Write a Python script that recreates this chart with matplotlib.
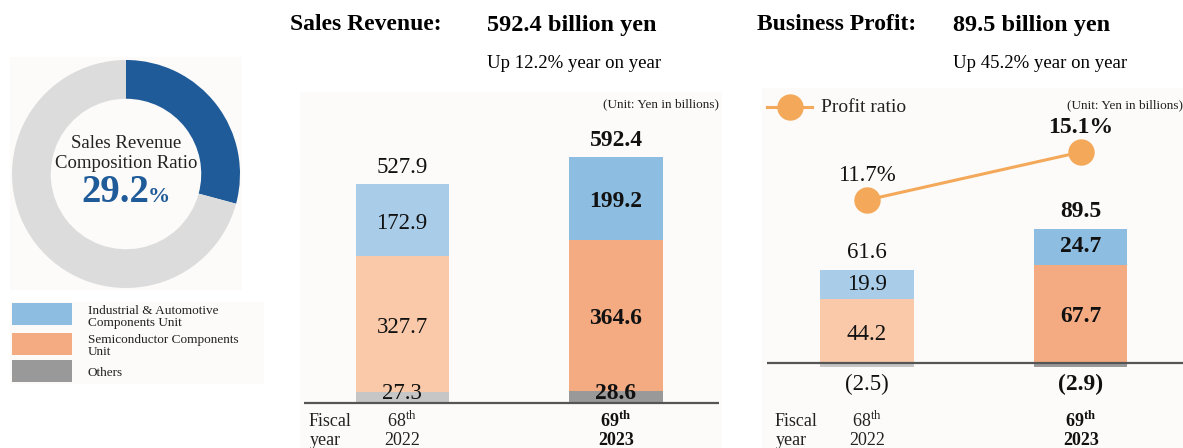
import matplotlib
matplotlib.use("Agg")
import matplotlib.pyplot as plt
from matplotlib.patches import Rectangle

plt.rcParams['font.family'] = ['Liberation Serif', 'DejaVu Serif']
plt.rcParams['mathtext.fontset'] = 'custom'
plt.rcParams['mathtext.rm'] = 'Liberation Serif'
plt.rcParams['mathtext.bf'] = 'Liberation Serif:bold'

# ---------------- data ----------------
fy_num = ["68", "69"]
fy_year = ["2022", "2023"]
composition = [29.2, 70.8]

rev_others = [27.3, 28.6]
rev_semi = [327.7, 364.6]
rev_ind = [172.9, 199.2]
rev_total = [527.9, 592.4]

prof_others = [-2.5, -2.9]
prof_semi = [44.2, 67.7]
prof_ind = [19.9, 24.7]
prof_total = [61.6, 89.5]
profit_ratio = [11.7, 15.1]

legend_labels = ["Industrial & Automotive\nComponents Unit",
                 "Semiconductor Components\nUnit", "Others"]

# colours
c_ind = ["#a9cce8", "#8dbde0"]
c_semi = ["#f9c9a9", "#f4ab82"]
c_oth = ["#c6c6c6", "#999999"]
c_line = "#f4a95a"
bg = "#fcfbf9"

W, H = 1183, 448
fig = plt.figure(figsize=(W / 100, H / 100), dpi=100)


def px_rect(x0, y0, x1, y1):
    """figure fraction rect from pixel box (top-left origin)"""
    return [x0 / W, 1 - y1 / H, (x1 - x0) / W, (y1 - y0) / H]


def add_bg(x0, y0, x1, y1):
    fig.patches.append(Rectangle((x0 / W, 1 - y1 / H), (x1 - x0) / W, (y1 - y0) / H,
                                 transform=fig.transFigure, facecolor=bg,
                                 edgecolor="none", zorder=-10))


add_bg(10, 57, 242, 290)
add_bg(10, 302, 264, 384)
add_bg(300, 92, 722, 448)
add_bg(762, 88, 1183, 448)

# ---------------- donut ----------------
axd = fig.add_axes(px_rect(12, 60, 240, 288))
axd.pie(composition, colors=["#1f5b99", "#dcdcdc"], startangle=90,
        counterclock=False, radius=1.0,
        wedgeprops=dict(width=0.34, edgecolor="none"))
axd.set_aspect("equal")
axd.set_xlim(-1, 1)
axd.set_ylim(-1, 1)
axd.axis("off")
fig.text(126 / W, 1 - 143 / H, "Sales Revenue", ha="center", va="center", fontsize=13.5, color="#222222")
fig.text(126 / W, 1 - 163 / H, "Composition Ratio", ha="center", va="center", fontsize=13.5, color="#222222")
fig.text(115 / W, 1 - 193 / H, "29.2", ha="center", va="center", fontsize=28,
         fontweight="bold", color="#1f5b99")
fig.text(148 / W, 1 - 197 / H, "%", ha="left", va="center", fontsize=16,
         fontweight="bold", color="#1f5b99")

# legend
box_y = [314, 344, 371]
txt_y = [317, 346, 373]
for i, (lab, col) in enumerate(zip(legend_labels, [c_ind[1], c_semi[1], c_oth[1]])):
    fig.patches.append(Rectangle((12 / W, 1 - (box_y[i] + 11) / H), 60 / W, 22 / H,
                                 transform=fig.transFigure, facecolor=col,
                                 edgecolor="none", zorder=1))
    fig.text(88 / W, 1 - txt_y[i] / H, lab, ha="left", va="center", fontsize=9.5,
             linespacing=1.05, color="#222222")

# ---------------- sales revenue ----------------
x = [0, 1]
bw = 0.435
axm = fig.add_axes(px_rect(300, 95, 720, 445))
axm.set_xlim(-0.477, 1.486)
axm.set_ylim(-101, 742)
axm.axis("off")
for i in x:
    axm.bar(i, rev_others[i], bw, color=c_oth[i], zorder=2)
    axm.bar(i, rev_semi[i], bw, bottom=rev_others[i], color=c_semi[i], zorder=2)
    axm.bar(i, rev_ind[i], bw, bottom=rev_others[i] + rev_semi[i], color=c_ind[i], zorder=2)
    fw = "bold" if i == 1 else "normal"
    fs = 17 if i == 1 else 16.5
    axm.text(i, rev_total[i] + 40, f"{rev_total[i]:.1f}", ha="center", va="center",
             fontsize=fs, fontweight=fw, color="#111111")
    axm.text(i, rev_others[i] + rev_semi[i] + rev_ind[i] / 2 - 8, f"{rev_ind[i]:.1f}",
             ha="center", va="center", fontsize=fs, fontweight=fw, color="#111111", zorder=3)
    axm.text(i, rev_others[i] + rev_semi[i] / 2 - 8, f"{rev_semi[i]:.1f}",
             ha="center", va="center", fontsize=fs, fontweight=fw, color="#111111", zorder=3)
    axm.text(i, 23, f"{rev_others[i]:.1f}",
             ha="center", va="center", fontsize=fs, fontweight=fw, color="#111111", zorder=3)
axm.plot([-0.458, 1.481], [0, 0], color="#555555", lw=1.6, zorder=4, solid_capstyle="butt")
axm.text(1.481, 735, "(Unit: Yen in billions)", ha="right", va="top", fontsize=9.5, color="#222222")

# ---------------- business profit ----------------
axr = fig.add_axes(px_rect(760, 90, 1183, 445))
axr.set_xlim(-0.5, 1.477)
axr.set_ylim(-56.6, 188.3)
axr.axis("off")
semi_pos = [0.44, 0.47]
for i in x:
    axr.bar(i, prof_others[i], bw, color=c_oth[i], zorder=2)
    axr.bar(i, prof_semi[i], bw, color=c_semi[i], zorder=2)
    axr.bar(i, prof_ind[i], bw, bottom=prof_semi[i], color=c_ind[i], zorder=2)
    fw = "bold" if i == 1 else "normal"
    fs = 17 if i == 1 else 16.5
    axr.text(i, prof_semi[i] + prof_ind[i] + 12, f"{prof_total[i]:.1f}", ha="center",
             va="center", fontsize=fs, fontweight=fw, color="#111111")
    axr.text(i, prof_semi[i] + prof_ind[i] / 2, f"{prof_ind[i]:.1f}", ha="center",
             va="center", fontsize=fs, fontweight=fw, color="#111111", zorder=3)
    axr.text(i, prof_semi[i] * semi_pos[i], f"{prof_semi[i]:.1f}", ha="center",
             va="center", fontsize=fs, fontweight=fw, color="#111111", zorder=3)
    axr.text(i, -14.5, f"({-prof_others[i]:.1f})", ha="center", va="center",
             fontsize=fs, fontweight=fw, color="#111111")
axr.plot([-0.467, 1.477], [0, 0], color="#555555", lw=1.6, zorder=4, solid_capstyle="butt")
axr.text(1.477, 182, "(Unit: Yen in billions)", ha="right", va="top", fontsize=9.5, color="#222222")

axl = axr.twinx()
axl.set_ylim(-5.65, 19.49)
axl.axis("off")
axl.plot(x, profit_ratio, color=c_line, lw=2.2, marker="o", markersize=19,
         markeredgewidth=0, zorder=5)
axl.text(0, profit_ratio[0] + 1.7, f"{profit_ratio[0]:.1f}%", ha="center", va="center",
         fontsize=16.5, color="#111111")
axl.text(1, profit_ratio[1] + 1.75, f"{profit_ratio[1]:.1f}%", ha="center", va="center",
         fontsize=17, fontweight="bold", color="#111111")

# profit ratio legend
fig.lines.append(plt.Line2D([767 / W, 812 / W], [1 - 107 / H, 1 - 107 / H],
                            transform=fig.transFigure, color=c_line, lw=2.2))
fig.lines.append(plt.Line2D([790 / W], [1 - 107 / H], transform=fig.transFigure,
                            color=c_line, marker="o", markersize=19, markeredgewidth=0))
fig.text(821 / W, 1 - 107 / H, "Profit ratio", ha="left", va="center", fontsize=14, color="#222222")

# ---------------- titles ----------------
fig.text(290 / W, 1 - 25 / H, "Sales Revenue:", ha="left", va="center", fontsize=17, fontweight="bold")
fig.text(487 / W, 1 - 25 / H, "592.4 billion yen", ha="left", va="center", fontsize=17.5, fontweight="bold")
fig.text(487 / W, 1 - 64 / H, "Up 12.2% year on year", ha="left", va="center", fontsize=13.5)
fig.text(757 / W, 1 - 25 / H, "Business Profit:", ha="left", va="center", fontsize=17, fontweight="bold")
fig.text(953 / W, 1 - 25 / H, "89.5 billion yen", ha="left", va="center", fontsize=17.5, fontweight="bold")
fig.text(953 / W, 1 - 64 / H, "Up 45.2% year on year", ha="left", va="center", fontsize=13.5)

# ---------------- fiscal year labels ----------------
for fx, cx in [(309, [402, 616]), (775, [867, 1081])]:
    fig.text(fx / W, 1 - 421 / H, "Fiscal", ha="left", va="center", fontsize=13, color="#222222")
    fig.text((fx + 1) / W, 1 - 440 / H, "year", ha="left", va="center", fontsize=13, color="#222222")
    for i, c in enumerate(cx):
        if i == 0:
            s1 = r"$\mathrm{" + fy_num[i] + r"}^{\mathrm{th}}$"
            fig.text(c / W, 1 - 421 / H, s1, ha="center", va="center", fontsize=13, color="#222222")
            fig.text(c / W, 1 - 440 / H, fy_year[i], ha="center", va="center", fontsize=13, color="#222222")
        else:
            s1 = r"$\mathbf{" + fy_num[i] + r"}^{\mathbf{th}}$"
            fig.text(c / W, 1 - 421 / H, s1, ha="center", va="center", fontsize=13, color="#111111")
            fig.text(c / W, 1 - 440 / H, fy_year[i], ha="center", va="center", fontsize=13,
                     fontweight="bold", color="#111111")

fig.savefig("out.png", dpi=100, facecolor="white")
